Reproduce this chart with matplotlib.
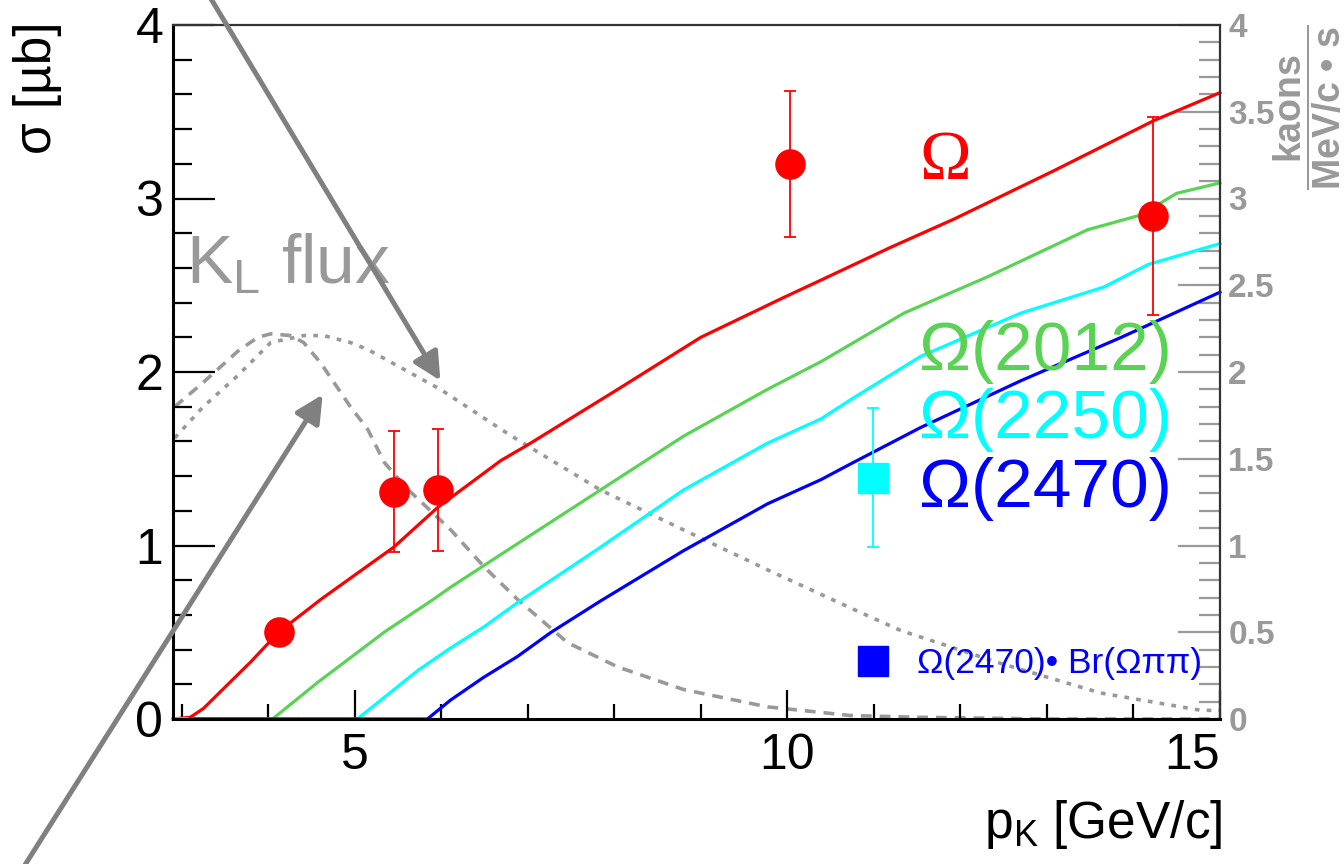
import matplotlib
matplotlib.use('Agg')
import matplotlib.pyplot as plt
from matplotlib.ticker import MultipleLocator, FuncFormatter
from matplotlib.lines import Line2D

plt.rcParams['font.family'] = ['Liberation Sans', 'DejaVu Sans']
plt.rcParams['mathtext.fontset'] = 'custom'
plt.rcParams['mathtext.rm'] = 'Liberation Sans'
plt.rcParams['mathtext.bf'] = 'Liberation Sans:bold'
plt.rcParams['mathtext.it'] = 'Liberation Sans:italic'

# cross section curves (sigma in mub vs p_K in GeV/c)
om_x = [2.9, 3.1, 3.25, 3.8, 4.12, 4.61, 5.45, 5.96, 6.69, 7.0, 8.04, 9.0, 9.96, 10.39, 11.2, 11.92, 13.08, 14.24, 15.0]
om_y = [0.0, 0.01, 0.06, 0.33, 0.50, 0.69, 0.99, 1.22, 1.49, 1.58, 1.90, 2.20, 2.43, 2.53, 2.72, 2.88, 3.16, 3.45, 3.61]

om2012_x = [2.9, 4.05, 4.57, 5.34, 5.91, 6.11, 6.88, 7.84, 8.80, 9.77, 10.39, 11.35, 12.32, 13.47, 14.05, 14.3, 14.5, 15.0]
om2012_y = [0.0, 0.0, 0.21, 0.50, 0.69, 0.76, 1.01, 1.32, 1.63, 1.90, 2.06, 2.34, 2.55, 2.82, 2.90, 2.97, 3.03, 3.09]

om2250_x = [2.9, 5.03, 5.73, 6.11, 6.49, 6.88, 7.84, 8.80, 9.77, 10.39, 10.73, 11.54, 12.70, 13.66, 14.17, 15.0]
om2250_y = [0.0, 0.0, 0.28, 0.41, 0.53, 0.67, 0.99, 1.32, 1.59, 1.73, 1.84, 2.09, 2.34, 2.49, 2.62, 2.74]

om2470_x = [3.1, 5.84, 6.11, 6.49, 6.88, 7.27, 7.84, 8.80, 9.77, 10.39, 10.73, 11.54, 12.70, 13.86, 15.0]
om2470_y = [0.0, 0.0, 0.11, 0.24, 0.36, 0.50, 0.68, 0.97, 1.24, 1.38, 1.47, 1.68, 1.95, 2.20, 2.46]

# measured points
pts_x = [4.12, 5.45, 5.96, 10.03, 14.23]
pts_y = [0.50, 1.31, 1.32, 3.20, 2.90]
pts_err = [0.0, 0.35, 0.35, 0.42, 0.57]

sq_x = [10.99]
sq_y = [1.39]
sq_err = [0.40]

# K_L flux (right axis, kaons / (MeV/c s))
flux_narrow_x = [2.92, 3.25, 3.65, 3.88, 4.03, 4.26, 4.41, 4.61, 4.80, 4.95, 5.15, 5.34, 5.6, 6.11, 6.49, 6.88, 7.46, 8.04, 8.80, 9.77, 10.73, 11.5, 13.0, 15.0]
flux_narrow_y = [1.80, 1.94, 2.12, 2.20, 2.22, 2.21, 2.17, 2.05, 1.91, 1.80, 1.67, 1.48, 1.33, 1.09, 0.88, 0.69, 0.44, 0.30, 0.17, 0.07, 0.02, 0.01, 0.0, 0.0]

flux_wide_x = [2.92, 3.25, 3.65, 4.03, 4.41, 4.64, 4.95, 5.15, 5.99, 6.69, 6.88, 7.84, 8.80, 9.77, 10.73, 11.31, 12.47, 13.62, 14.78, 15.0]
flux_wide_y = [1.62, 1.80, 1.98, 2.17, 2.21, 2.21, 2.17, 2.13, 1.90, 1.67, 1.61, 1.32, 1.09, 0.86, 0.64, 0.51, 0.32, 0.15, 0.05, 0.05]

# arrows pointing from the K_L flux label to the flux curves
arrow1_tail, arrow1_tip = (3.28, 4.20), (5.99, 1.95)
arrow2_tail, arrow2_tip = (1.14, -0.88), (4.63, 1.87)

red = '#ff0000'
green = '#59d354'
cyan = '#00ffff'
blue = '#0000ff'
grey = '#999999'

fig = plt.figure(figsize=(13.44, 8.64), dpi=100)
ax = fig.add_axes([173/1344, 1-719/864, 1047/1344, 694/864])
ax.set_xlim(2.9, 15)
ax.set_ylim(0, 4)

ax2 = ax.twinx()
ax2.set_ylim(0, 4)

ax2.plot(flux_narrow_x, flux_narrow_y, color=grey, lw=2.6, ls=(0, (3, 2.2)))
ax2.plot(flux_wide_x, flux_wide_y, color=grey, lw=2.6, ls=(0, (1.3, 2.0)))

ax.set_zorder(ax2.get_zorder() + 1)
ax.patch.set_visible(False)

ax.plot(om_x, om_y, color=red, lw=2.3, clip_on=False)
ax.plot(om2012_x, om2012_y, color=green, lw=2.3, clip_on=False)
ax.plot(om2250_x, om2250_y, color=cyan, lw=2.3, clip_on=False)
ax.plot(om2470_x, om2470_y, color=blue, lw=2.3, clip_on=False)

ax.errorbar(pts_x, pts_y, yerr=pts_err, fmt='o', color=red, ms=21, elinewidth=1.3, capsize=4.5, capthick=1.3)
ax.errorbar(sq_x, sq_y, yerr=sq_err, fmt='s', color=cyan, ms=22, elinewidth=1.3, capsize=4.5, capthick=1.3)

# labels of the curves
ax.text(11.52, 3.11, 'Ω', color=red, fontsize=50, family='Liberation Serif', va='baseline')
ax.text(11.52, 2.01, 'Ω(2012)', color=green, fontsize=50, va='baseline')
ax.text(11.52, 1.62, 'Ω(2250)', color=cyan, fontsize=50, va='baseline')
ax.text(11.52, 1.22, 'Ω(2470)', color=blue, fontsize=50, va='baseline')

ax.text(3.05, 2.51, r'K$_{\mathregular{L}}$ flux', color=grey, fontsize=50, va='baseline')

br_handle = Line2D([], [], marker='s', ls='none', color=blue, ms=22)
ax.legend([br_handle], ['Ω(2470)• Br(Ωππ)'], loc='center left',
          bbox_to_anchor=(859/1344, 1-664/864), bbox_transform=fig.transFigure,
          frameon=False, fontsize=25.5, labelcolor=blue, handlelength=0.8,
          handletextpad=0.85, borderpad=0, borderaxespad=0)

for tail, tip in [(arrow1_tail, arrow1_tip), (arrow2_tail, arrow2_tip)]:
    ax.annotate('', xy=tip, xytext=tail, annotation_clip=False, zorder=10,
                arrowprops=dict(arrowstyle='-|>', color='#808080', lw=3.6,
                                mutation_scale=42, shrinkA=0, shrinkB=0, clip_on=False))

# left / bottom axes
ax.xaxis.set_major_locator(MultipleLocator(5))
ax.xaxis.set_minor_locator(MultipleLocator(1))
ax.yaxis.set_major_locator(MultipleLocator(1))
ax.yaxis.set_minor_locator(MultipleLocator(0.2))
ax.tick_params(axis='x', which='major', direction='in', length=21, width=1.6, labelsize=36, pad=10, top=False)
ax.tick_params(axis='x', which='minor', direction='in', length=11, width=1.6, top=False)
ax.tick_params(axis='y', which='major', direction='in', length=30, width=1.6, labelsize=36, pad=7, right=False)
ax.tick_params(axis='y', which='minor', direction='in', length=14, width=1.6, right=False)
ax.xaxis.set_major_formatter(FuncFormatter(lambda v, p: '%g' % v))
ax.yaxis.set_major_formatter(FuncFormatter(lambda v, p: '%g' % v))
for s in ['left', 'bottom']:
    ax.spines[s].set_linewidth(2.2)
for s in ['top', 'right']:
    ax.spines[s].set_linewidth(1.6)
    ax.spines[s].set_color('#333333')

# right axis for the flux
ax2.yaxis.set_major_locator(MultipleLocator(0.5))
ax2.yaxis.set_minor_locator(MultipleLocator(0.1))
ax2.tick_params(axis='y', which='major', direction='in', length=30, width=1.6, color=grey,
                labelsize=24, labelcolor=grey, pad=6)
ax2.tick_params(axis='y', which='minor', direction='in', length=15, width=1.6, color=grey)
ax2.yaxis.set_major_formatter(FuncFormatter(lambda v, p: '%g' % v))
for s in ax2.spines.values():
    s.set_visible(False)

fig.canvas.draw()
for lab in ax2.get_yticklabels():
    lab.set_fontweight('bold')
# keep the last x label inside the frame
for tick in ax.xaxis.get_major_ticks():
    if tick.label1.get_text() == '15':
        tick.label1.set_horizontalalignment('right')
        tick.label1.set_x(15.0)

fig.text(38/1344, 1-22/864, 'σ [µb]', fontsize=37, rotation=90, ha='center', va='top')
fig.text(1222/1344, 1-838/864, r'p$_{\mathregular{K}}$ [GeV/c]', fontsize=37, ha='right', va='baseline')
fig.text(1308/1344, 1-107/864, r'$\mathbf{\dfrac{kaons}{MeV/c\ •\ s}}$', fontsize=27,
         color=grey, rotation=90, ha='center', va='center')

fig.savefig('out.png', dpi=100)
